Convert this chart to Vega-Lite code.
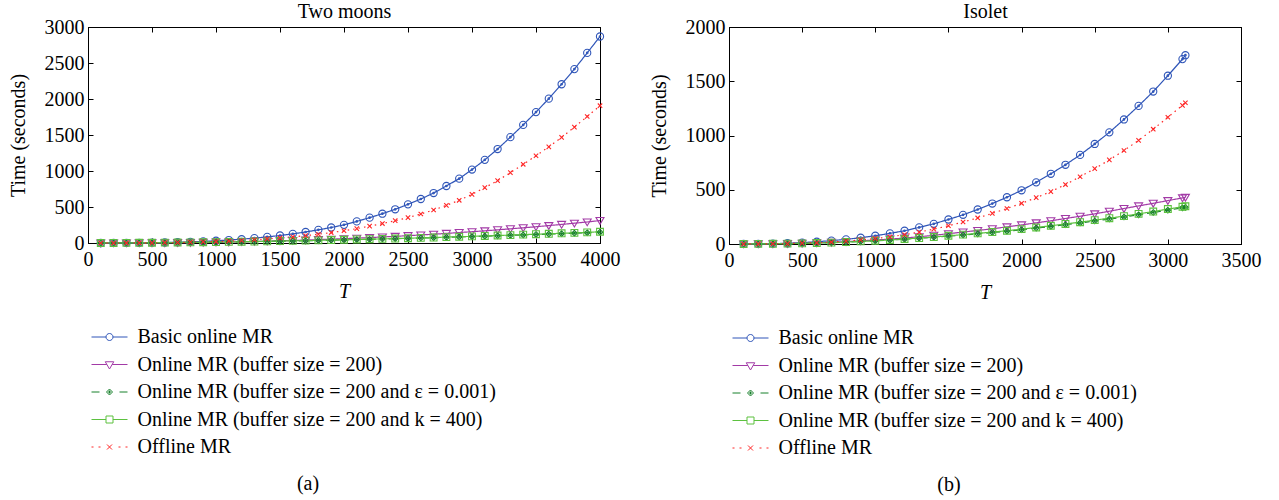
{
  "$schema": "https://vega.github.io/schema/vega-lite/v6.json",
  "padding": {"left": 7, "top": 1, "right": 5, "bottom": 5},
  "spacing": 27,
  "datasets": {
    "moons": [
      {"T":100,"series":"b","time":0.1},{"T":200,"series":"b","time":0.5},{"T":300,"series":"b","time":1.2},{"T":400,"series":"b","time":2.5},{"T":500,"series":"b","time":4.5},{"T":600,"series":"b","time":7},{"T":700,"series":"b","time":11},{"T":800,"series":"b","time":16},{"T":900,"series":"b","time":23},{"T":1000,"series":"b","time":31},
      {"T":1100,"series":"b","time":41},{"T":1200,"series":"b","time":53},{"T":1300,"series":"b","time":68},{"T":1400,"series":"b","time":85},{"T":1500,"series":"b","time":104},{"T":1600,"series":"b","time":127},{"T":1700,"series":"b","time":153},{"T":1800,"series":"b","time":183},{"T":1900,"series":"b","time":215},{"T":2000,"series":"b","time":252},
      {"T":2100,"series":"b","time":300},{"T":2200,"series":"b","time":352},{"T":2300,"series":"b","time":407},{"T":2400,"series":"b","time":468},{"T":2500,"series":"b","time":537},{"T":2600,"series":"b","time":611},{"T":2700,"series":"b","time":694},{"T":2800,"series":"b","time":792},{"T":2900,"series":"b","time":894},{"T":3000,"series":"b","time":1020},
      {"T":3100,"series":"b","time":1155},{"T":3200,"series":"b","time":1305},{"T":3300,"series":"b","time":1470},{"T":3400,"series":"b","time":1640},{"T":3500,"series":"b","time":1818},{"T":3600,"series":"b","time":2005},{"T":3700,"series":"b","time":2205},{"T":3800,"series":"b","time":2415},{"T":3900,"series":"b","time":2640},{"T":4000,"series":"b","time":2868},

      {"T":100,"series":"m","time":0.1},{"T":200,"series":"m","time":0.3},{"T":300,"series":"m","time":0.7},{"T":400,"series":"m","time":1.3},{"T":500,"series":"m","time":2.2},{"T":600,"series":"m","time":3.5},{"T":700,"series":"m","time":5},{"T":800,"series":"m","time":7},{"T":900,"series":"m","time":9},{"T":1000,"series":"m","time":12},
      {"T":1100,"series":"m","time":14},{"T":1200,"series":"m","time":18},{"T":1300,"series":"m","time":22},{"T":1400,"series":"m","time":26},{"T":1500,"series":"m","time":30},{"T":1600,"series":"m","time":35},{"T":1700,"series":"m","time":41},{"T":1800,"series":"m","time":47},{"T":1900,"series":"m","time":53},{"T":2000,"series":"m","time":60},
      {"T":2100,"series":"m","time":67},{"T":2200,"series":"m","time":75},{"T":2300,"series":"m","time":84},{"T":2400,"series":"m","time":92},{"T":2500,"series":"m","time":102},{"T":2600,"series":"m","time":112},{"T":2700,"series":"m","time":122},{"T":2800,"series":"m","time":133},{"T":2900,"series":"m","time":145},{"T":3000,"series":"m","time":157},
      {"T":3100,"series":"m","time":169},{"T":3200,"series":"m","time":183},{"T":3300,"series":"m","time":197},{"T":3400,"series":"m","time":211},{"T":3500,"series":"m","time":226},{"T":3600,"series":"m","time":242},{"T":3700,"series":"m","time":258},{"T":3800,"series":"m","time":275},{"T":3900,"series":"m","time":292},{"T":4000,"series":"m","time":312},

      {"T":100,"series":"e","time":0.2},{"T":200,"series":"e","time":0.7},{"T":300,"series":"e","time":1.4},{"T":400,"series":"e","time":2.4},{"T":500,"series":"e","time":3.6},{"T":600,"series":"e","time":4.9},{"T":700,"series":"e","time":6.5},{"T":800,"series":"e","time":8.3},{"T":900,"series":"e","time":10.3},{"T":1000,"series":"e","time":12.4},
      {"T":1100,"series":"e","time":15},{"T":1200,"series":"e","time":17},{"T":1300,"series":"e","time":20},{"T":1400,"series":"e","time":23},{"T":1500,"series":"e","time":26},{"T":1600,"series":"e","time":29},{"T":1700,"series":"e","time":32},{"T":1800,"series":"e","time":36},{"T":1900,"series":"e","time":39},{"T":2000,"series":"e","time":43},
      {"T":2100,"series":"e","time":47},{"T":2200,"series":"e","time":51},{"T":2300,"series":"e","time":55},{"T":2400,"series":"e","time":60},{"T":2500,"series":"e","time":64},{"T":2600,"series":"e","time":69},{"T":2700,"series":"e","time":74},{"T":2800,"series":"e","time":79},{"T":2900,"series":"e","time":84},{"T":3000,"series":"e","time":89},
      {"T":3100,"series":"e","time":95},{"T":3200,"series":"e","time":100},{"T":3300,"series":"e","time":106},{"T":3400,"series":"e","time":112},{"T":3500,"series":"e","time":118},{"T":3600,"series":"e","time":124},{"T":3700,"series":"e","time":130},{"T":3800,"series":"e","time":137},{"T":3900,"series":"e","time":143},{"T":4000,"series":"e","time":150},

      {"T":100,"series":"k","time":0.2},{"T":200,"series":"k","time":0.7},{"T":300,"series":"k","time":1.5},{"T":400,"series":"k","time":2.5},{"T":500,"series":"k","time":3.7},{"T":600,"series":"k","time":5.1},{"T":700,"series":"k","time":6.7},{"T":800,"series":"k","time":8.6},{"T":900,"series":"k","time":10.6},{"T":1000,"series":"k","time":12.8},
      {"T":1100,"series":"k","time":15},{"T":1200,"series":"k","time":18},{"T":1300,"series":"k","time":20},{"T":1400,"series":"k","time":23},{"T":1500,"series":"k","time":27},{"T":1600,"series":"k","time":30},{"T":1700,"series":"k","time":33},{"T":1800,"series":"k","time":37},{"T":1900,"series":"k","time":41},{"T":2000,"series":"k","time":45},
      {"T":2100,"series":"k","time":49},{"T":2200,"series":"k","time":53},{"T":2300,"series":"k","time":57},{"T":2400,"series":"k","time":62},{"T":2500,"series":"k","time":67},{"T":2600,"series":"k","time":71},{"T":2700,"series":"k","time":76},{"T":2800,"series":"k","time":82},{"T":2900,"series":"k","time":87},{"T":3000,"series":"k","time":92},
      {"T":3100,"series":"k","time":98},{"T":3200,"series":"k","time":104},{"T":3300,"series":"k","time":110},{"T":3400,"series":"k","time":116},{"T":3500,"series":"k","time":122},{"T":3600,"series":"k","time":128},{"T":3700,"series":"k","time":135},{"T":3800,"series":"k","time":141},{"T":3900,"series":"k","time":148},{"T":4000,"series":"k","time":156},

      {"T":100,"series":"o","time":0.05},{"T":200,"series":"o","time":0.2},{"T":300,"series":"o","time":0.6},{"T":400,"series":"o","time":1.3},{"T":500,"series":"o","time":2.5},{"T":600,"series":"o","time":4.5},{"T":700,"series":"o","time":7},{"T":800,"series":"o","time":10},{"T":900,"series":"o","time":15},{"T":1000,"series":"o","time":20},
      {"T":1100,"series":"o","time":27},{"T":1200,"series":"o","time":35},{"T":1300,"series":"o","time":45},{"T":1400,"series":"o","time":57},{"T":1500,"series":"o","time":70},{"T":1600,"series":"o","time":85},{"T":1700,"series":"o","time":102},{"T":1800,"series":"o","time":122},{"T":1900,"series":"o","time":145},{"T":2000,"series":"o","time":170},
      {"T":2100,"series":"o","time":200},{"T":2200,"series":"o","time":234},{"T":2300,"series":"o","time":270},{"T":2400,"series":"o","time":310},{"T":2500,"series":"o","time":352},{"T":2600,"series":"o","time":403},{"T":2700,"series":"o","time":458},{"T":2800,"series":"o","time":523},{"T":2900,"series":"o","time":593},{"T":3000,"series":"o","time":676},
      {"T":3100,"series":"o","time":769},{"T":3200,"series":"o","time":866},{"T":3300,"series":"o","time":977},{"T":3400,"series":"o","time":1093},{"T":3500,"series":"o","time":1212},{"T":3600,"series":"o","time":1335},{"T":3700,"series":"o","time":1467},{"T":3800,"series":"o","time":1609},{"T":3900,"series":"o","time":1757},{"T":4000,"series":"o","time":1907}
    ],
    "isolet": [
      {"T":100,"series":"b","time":0.3},{"T":200,"series":"b","time":1},{"T":300,"series":"b","time":3},{"T":400,"series":"b","time":7},{"T":500,"series":"b","time":13},{"T":600,"series":"b","time":21},{"T":700,"series":"b","time":31},{"T":800,"series":"b","time":43},{"T":900,"series":"b","time":58},{"T":1000,"series":"b","time":76},
      {"T":1100,"series":"b","time":98},{"T":1200,"series":"b","time":122},{"T":1300,"series":"b","time":153},{"T":1400,"series":"b","time":186},{"T":1500,"series":"b","time":226},{"T":1600,"series":"b","time":269},{"T":1700,"series":"b","time":318},{"T":1800,"series":"b","time":373},{"T":1900,"series":"b","time":431},{"T":2000,"series":"b","time":495},
      {"T":2100,"series":"b","time":568},{"T":2200,"series":"b","time":647},{"T":2300,"series":"b","time":730},{"T":2400,"series":"b","time":821},{"T":2500,"series":"b","time":922},{"T":2600,"series":"b","time":1029},{"T":2700,"series":"b","time":1148},{"T":2800,"series":"b","time":1273},{"T":2900,"series":"b","time":1405},{"T":3000,"series":"b","time":1551},
      {"T":3100,"series":"b","time":1704},{"T":3120,"series":"b","time":1740},

      {"T":100,"series":"m","time":0.3},{"T":200,"series":"m","time":1},{"T":300,"series":"m","time":2},{"T":400,"series":"m","time":4},{"T":500,"series":"m","time":7},{"T":600,"series":"m","time":11},{"T":700,"series":"m","time":16},{"T":800,"series":"m","time":22},{"T":900,"series":"m","time":29},{"T":1000,"series":"m","time":37},
      {"T":1100,"series":"m","time":45},{"T":1200,"series":"m","time":55},{"T":1300,"series":"m","time":67},{"T":1400,"series":"m","time":80},{"T":1500,"series":"m","time":95},{"T":1600,"series":"m","time":110},{"T":1700,"series":"m","time":125},{"T":1800,"series":"m","time":140},{"T":1900,"series":"m","time":158},{"T":2000,"series":"m","time":176},
      {"T":2100,"series":"m","time":195},{"T":2200,"series":"m","time":214},{"T":2300,"series":"m","time":235},{"T":2400,"series":"m","time":256},{"T":2500,"series":"m","time":278},{"T":2600,"series":"m","time":302},{"T":2700,"series":"m","time":327},{"T":2800,"series":"m","time":351},{"T":2900,"series":"m","time":375},{"T":3000,"series":"m","time":400},
      {"T":3100,"series":"m","time":425},{"T":3120,"series":"m","time":430},

      {"T":100,"series":"e","time":0.3},{"T":200,"series":"e","time":0.8},{"T":300,"series":"e","time":1.9},{"T":400,"series":"e","time":3.3},{"T":500,"series":"e","time":5.7},{"T":600,"series":"e","time":8.6},{"T":700,"series":"e","time":12.4},{"T":800,"series":"e","time":17},{"T":900,"series":"e","time":23},{"T":1000,"series":"e","time":29},
      {"T":1100,"series":"e","time":35.5},{"T":1200,"series":"e","time":44},{"T":1300,"series":"e","time":53},{"T":1400,"series":"e","time":62},{"T":1500,"series":"e","time":73},{"T":1600,"series":"e","time":83},{"T":1700,"series":"e","time":94},{"T":1800,"series":"e","time":106},{"T":1900,"series":"e","time":118},{"T":2000,"series":"e","time":132},
      {"T":2100,"series":"e","time":147},{"T":2200,"series":"e","time":162},{"T":2300,"series":"e","time":178},{"T":2400,"series":"e","time":194},{"T":2500,"series":"e","time":212},{"T":2600,"series":"e","time":230},{"T":2700,"series":"e","time":249},{"T":2800,"series":"e","time":269},{"T":2900,"series":"e","time":290},{"T":3000,"series":"e","time":312},
      {"T":3100,"series":"e","time":333},{"T":3120,"series":"e","time":338},

      {"T":100,"series":"k","time":0.3},{"T":200,"series":"k","time":0.8},{"T":300,"series":"k","time":2},{"T":400,"series":"k","time":3.5},{"T":500,"series":"k","time":6},{"T":600,"series":"k","time":9},{"T":700,"series":"k","time":13},{"T":800,"series":"k","time":18},{"T":900,"series":"k","time":24},{"T":1000,"series":"k","time":30},
      {"T":1100,"series":"k","time":37},{"T":1200,"series":"k","time":46},{"T":1300,"series":"k","time":55},{"T":1400,"series":"k","time":64},{"T":1500,"series":"k","time":76},{"T":1600,"series":"k","time":86},{"T":1700,"series":"k","time":98},{"T":1800,"series":"k","time":110},{"T":1900,"series":"k","time":122},{"T":2000,"series":"k","time":137},
      {"T":2100,"series":"k","time":152},{"T":2200,"series":"k","time":168},{"T":2300,"series":"k","time":185},{"T":2400,"series":"k","time":201},{"T":2500,"series":"k","time":220},{"T":2600,"series":"k","time":238},{"T":2700,"series":"k","time":257},{"T":2800,"series":"k","time":278},{"T":2900,"series":"k","time":299},{"T":3000,"series":"k","time":322},
      {"T":3100,"series":"k","time":343},{"T":3120,"series":"k","time":348},

      {"T":100,"series":"o","time":0.2},{"T":200,"series":"o","time":0.8},{"T":300,"series":"o","time":2},{"T":400,"series":"o","time":4},{"T":500,"series":"o","time":7},{"T":600,"series":"o","time":11},{"T":700,"series":"o","time":18},{"T":800,"series":"o","time":26},{"T":900,"series":"o","time":37},{"T":1000,"series":"o","time":50},
      {"T":1100,"series":"o","time":66},{"T":1200,"series":"o","time":86},{"T":1300,"series":"o","time":110},{"T":1400,"series":"o","time":137},{"T":1500,"series":"o","time":168},{"T":1600,"series":"o","time":203},{"T":1700,"series":"o","time":240},{"T":1800,"series":"o","time":282},{"T":1900,"series":"o","time":327},{"T":2000,"series":"o","time":375},
      {"T":2100,"series":"o","time":427},{"T":2200,"series":"o","time":483},{"T":2300,"series":"o","time":548},{"T":2400,"series":"o","time":620},{"T":2500,"series":"o","time":695},{"T":2600,"series":"o","time":775},{"T":2700,"series":"o","time":862},{"T":2800,"series":"o","time":955},{"T":2900,"series":"o","time":1058},{"T":3000,"series":"o","time":1168},
      {"T":3100,"series":"o","time":1278},{"T":3120,"series":"o","time":1302}
    ]
  },
  "hconcat": [
    {
      "width": 512,
      "height": 216,
      "data": {"name": "moons"},
      "title": {"text": "(a)", "orient": "bottom", "offset": 17, "dx": -36},
      "layer": [
        {
          "mark": {"type": "line", "strokeWidth": 1.2},
          "encoding": {
            "x": {"field": "T", "type": "quantitative", "scale": {"domain": [0, 4000], "nice": false},
                  "axis": {"orient": "bottom", "title": "T", "titleFontStyle": "italic", "format": "d", "labelPadding": 11, "titlePadding": 12, "values": [0, 500, 1000, 1500, 2000, 2500, 3000, 3500, 4000]}},
            "y": {"field": "time", "type": "quantitative", "scale": {"domain": [0, 3000], "nice": false},
                  "axis": {"orient": "left", "title": "Time (seconds)", "format": "d", "labelPadding": 9, "titlePadding": 16, "values": [0, 500, 1000, 1500, 2000, 2500, 3000]}},
            "color": {"field": "series", "type": "nominal", "legend": null,
                      "scale": {"domain": ["b", "m", "e", "k", "o"], "range": ["#2f55b8", "#a23aa6", "#17802b", "#5cc13f", "#ff2626"]}},
            "strokeDash": {"field": "series", "type": "nominal", "legend": null,
                           "scale": {"domain": ["b", "m", "e", "k", "o"], "range": [[1, 0], [1, 0], [5, 4], [1, 0], [1.5, 4]]}}
          }
        },
        {
          "mark": {"type": "point", "filled": false, "size": 64, "strokeWidth": 1.1, "opacity": 1},
          "encoding": {
            "x": {"field": "T", "type": "quantitative", "scale": {"domain": [0, 4000], "nice": false}, "axis": null},
            "y": {"field": "time", "type": "quantitative", "scale": {"domain": [0, 3000], "nice": false}, "axis": null},
            "color": {"field": "series", "type": "nominal", "legend": null,
                      "scale": {"domain": ["b", "m", "e", "k", "o"], "range": ["#2f55b8", "#a23aa6", "#17802b", "#5cc13f", "#ff2626"]}},
            "shape": {"field": "series", "type": "nominal", "legend": null,
                      "scale": {"domain": ["b", "m", "e", "k", "o"], "range": [
                        "M0.9,0A0.9,0.9 0 1 1 -0.9,0A0.9,0.9 0 1 1 0.9,0M0.2,0A0.2,0.2 0 1 1 -0.2,0A0.2,0.2 0 1 1 0.2,0",
                        "M-1,-0.75L1,-0.75L0,0.95Z",
                        "M0,-0.7L0.7,0L0,0.7L-0.7,0ZM-0.35,0H0.35M0,-0.35V0.35",
                        "M-0.85,-0.85H0.85V0.85H-0.85Z",
                        "M-0.55,-0.55L0.55,0.55M-0.55,0.55L0.55,-0.55"]}}
          }
        },
        {
          "transform": [{"filter": "false"}],
          "mark": {"type": "point", "filled": false, "opacity": 1},
          "encoding": {
            "x": {"field": "T", "type": "quantitative", "scale": {"domain": [0, 4000], "nice": false},
                  "axis": {"orient": "top", "title": "Two moons", "labels": false, "titlePadding": 5, "values": [0, 500, 1000, 1500, 2000, 2500, 3000, 3500, 4000]}},
            "y": {"field": "time", "type": "quantitative", "scale": {"domain": [0, 3000], "nice": false},
                  "axis": {"orient": "right", "title": null, "labels": false, "values": [0, 500, 1000, 1500, 2000, 2500, 3000]}},
            "color": {"field": "series", "type": "nominal",
                      "scale": {"domain": ["b", "m", "e", "k", "o"], "range": ["#2f55b8", "#a23aa6", "#17802b", "#5cc13f", "#ff2626"]},
                      "legend": {"orient": "none", "legendX": 11.5, "legendY": 300, "title": null,
                                 "labelExpr": "datum.value == 'b' ? 'Basic online MR' : datum.value == 'm' ? 'Online MR (buffer size = 200)' : datum.value == 'e' ? 'Online MR (buffer size = 200 and ε = 0.001)' : datum.value == 'k' ? 'Online MR (buffer size = 200 and k = 400)' : 'Offline MR'"}},
            "shape": {"field": "series", "type": "nominal",
                      "scale": {"domain": ["b", "m", "e", "k", "o"], "range": [
                        "M-3.6,0H-0.7M0.7,0H3.6M0.7,0A0.7,0.7 0 1 1 -0.7,0A0.7,0.7 0 1 1 0.7,0",
                        "M-3.6,0H-0.53M0.53,0H3.6M-0.85,-0.55L0.85,-0.55L0,0.9Z",
                        "M-3.6,0H-2M2,0H3.6M0,-0.6L0.6,0L0,0.6L-0.6,0ZM-0.3,0H0.3M0,-0.3V0.3",
                        "M-3.6,0H-0.7M0.7,0H3.6M-0.7,-0.7H0.7V0.7H-0.7Z",
                        "M-3.6,0H-3.2M-2.2,0H-1.8M1.8,0H2.2M3.2,0H3.6M-0.5,-0.5L0.5,0.5M-0.5,0.5L0.5,-0.5"]},
                      "legend": {"orient": "none", "legendX": 11.5, "legendY": 300, "title": null,
                                 "labelExpr": "datum.value == 'b' ? 'Basic online MR' : datum.value == 'm' ? 'Online MR (buffer size = 200)' : datum.value == 'e' ? 'Online MR (buffer size = 200 and ε = 0.001)' : datum.value == 'k' ? 'Online MR (buffer size = 200 and k = 400)' : 'Offline MR'"}}
          }
        }
      ],
      "resolve": {"scale": {"shape": "independent", "color": "independent"}, "axis": {"x": "independent", "y": "independent"}}
    },
    {
      "width": 512,
      "height": 217,
      "data": {"name": "isolet"},
      "title": {"text": "(b)", "orient": "bottom", "offset": 17, "dx": -36},
      "layer": [
        {
          "mark": {"type": "line", "strokeWidth": 1.2},
          "encoding": {
            "x": {"field": "T", "type": "quantitative", "scale": {"domain": [0, 3500], "nice": false},
                  "axis": {"orient": "bottom", "title": "T", "titleFontStyle": "italic", "format": "d", "labelPadding": 11, "titlePadding": 12, "values": [0, 500, 1000, 1500, 2000, 2500, 3000, 3500]}},
            "y": {"field": "time", "type": "quantitative", "scale": {"domain": [0, 2000], "nice": false},
                  "axis": {"orient": "left", "title": "Time (seconds)", "format": "d", "labelPadding": 9, "titlePadding": 16, "values": [0, 500, 1000, 1500, 2000]}},
            "color": {"field": "series", "type": "nominal", "legend": null,
                      "scale": {"domain": ["b", "m", "e", "k", "o"], "range": ["#2f55b8", "#a23aa6", "#17802b", "#5cc13f", "#ff2626"]}},
            "strokeDash": {"field": "series", "type": "nominal", "legend": null,
                           "scale": {"domain": ["b", "m", "e", "k", "o"], "range": [[1, 0], [1, 0], [5, 4], [1, 0], [1.5, 4]]}}
          }
        },
        {
          "mark": {"type": "point", "filled": false, "size": 64, "strokeWidth": 1.1, "opacity": 1},
          "encoding": {
            "x": {"field": "T", "type": "quantitative", "scale": {"domain": [0, 3500], "nice": false}, "axis": null},
            "y": {"field": "time", "type": "quantitative", "scale": {"domain": [0, 2000], "nice": false}, "axis": null},
            "color": {"field": "series", "type": "nominal", "legend": null,
                      "scale": {"domain": ["b", "m", "e", "k", "o"], "range": ["#2f55b8", "#a23aa6", "#17802b", "#5cc13f", "#ff2626"]}},
            "shape": {"field": "series", "type": "nominal", "legend": null,
                      "scale": {"domain": ["b", "m", "e", "k", "o"], "range": [
                        "M0.9,0A0.9,0.9 0 1 1 -0.9,0A0.9,0.9 0 1 1 0.9,0M0.2,0A0.2,0.2 0 1 1 -0.2,0A0.2,0.2 0 1 1 0.2,0",
                        "M-1,-0.75L1,-0.75L0,0.95Z",
                        "M0,-0.7L0.7,0L0,0.7L-0.7,0ZM-0.35,0H0.35M0,-0.35V0.35",
                        "M-0.85,-0.85H0.85V0.85H-0.85Z",
                        "M-0.55,-0.55L0.55,0.55M-0.55,0.55L0.55,-0.55"]}}
          }
        },
        {
          "transform": [{"filter": "false"}],
          "mark": {"type": "point", "filled": false, "opacity": 1},
          "encoding": {
            "x": {"field": "T", "type": "quantitative", "scale": {"domain": [0, 3500], "nice": false},
                  "axis": {"orient": "top", "title": "Isolet", "labels": false, "titlePadding": 5, "values": [0, 500, 1000, 1500, 2000, 2500, 3000, 3500]}},
            "y": {"field": "time", "type": "quantitative", "scale": {"domain": [0, 2000], "nice": false},
                  "axis": {"orient": "right", "title": null, "labels": false, "values": [0, 500, 1000, 1500, 2000]}},
            "color": {"field": "series", "type": "nominal",
                      "scale": {"domain": ["b", "m", "e", "k", "o"], "range": ["#2f55b8", "#a23aa6", "#17802b", "#5cc13f", "#ff2626"]},
                      "legend": {"orient": "none", "legendX": 11.5, "legendY": 301, "title": null,
                                 "labelExpr": "datum.value == 'b' ? 'Basic online MR' : datum.value == 'm' ? 'Online MR (buffer size = 200)' : datum.value == 'e' ? 'Online MR (buffer size = 200 and ε = 0.001)' : datum.value == 'k' ? 'Online MR (buffer size = 200 and k = 400)' : 'Offline MR'"}},
            "shape": {"field": "series", "type": "nominal",
                      "scale": {"domain": ["b", "m", "e", "k", "o"], "range": [
                        "M-3.6,0H-0.7M0.7,0H3.6M0.7,0A0.7,0.7 0 1 1 -0.7,0A0.7,0.7 0 1 1 0.7,0",
                        "M-3.6,0H-0.53M0.53,0H3.6M-0.85,-0.55L0.85,-0.55L0,0.9Z",
                        "M-3.6,0H-2M2,0H3.6M0,-0.6L0.6,0L0,0.6L-0.6,0ZM-0.3,0H0.3M0,-0.3V0.3",
                        "M-3.6,0H-0.7M0.7,0H3.6M-0.7,-0.7H0.7V0.7H-0.7Z",
                        "M-3.6,0H-3.2M-2.2,0H-1.8M1.8,0H2.2M3.2,0H3.6M-0.5,-0.5L0.5,0.5M-0.5,0.5L0.5,-0.5"]},
                      "legend": {"orient": "none", "legendX": 11.5, "legendY": 301, "title": null,
                                 "labelExpr": "datum.value == 'b' ? 'Basic online MR' : datum.value == 'm' ? 'Online MR (buffer size = 200)' : datum.value == 'e' ? 'Online MR (buffer size = 200 and ε = 0.001)' : datum.value == 'k' ? 'Online MR (buffer size = 200 and k = 400)' : 'Offline MR'"}}
          }
        }
      ],
      "resolve": {"scale": {"shape": "independent", "color": "independent"}, "axis": {"x": "independent", "y": "independent"}}
    }
  ],
  "config": {
    "font": "Liberation Serif",
    "background": "white",
    "view": {"stroke": "black", "strokeWidth": 1},
    "axis": {
      "grid": false,
      "domainColor": "black",
      "domainWidth": 1,
      "tickColor": "black",
      "tickWidth": 1,
      "tickSize": -5,
      "labelColor": "black",
      "labelFont": "Liberation Serif",
      "labelFontSize": 20,
      "labelPadding": 8,
      "labelFlush": false,
      "labelOverlap": false,
      "titleColor": "black",
      "titleFont": "Liberation Serif",
      "titleFontSize": 20,
      "titleFontWeight": "normal",
      "titlePadding": 8
    },
    "legend": {
      "symbolSize": 100,
      "symbolStrokeWidth": 1,
      "labelFont": "Liberation Serif",
      "labelFontSize": 20,
      "labelColor": "black",
      "labelOffset": 18,
      "labelLimit": 600,
      "rowPadding": 7.5,
      "padding": 0
    },
    "title": {"font": "Liberation Serif", "fontSize": 20, "fontWeight": "normal", "color": "black"}
  }
}
